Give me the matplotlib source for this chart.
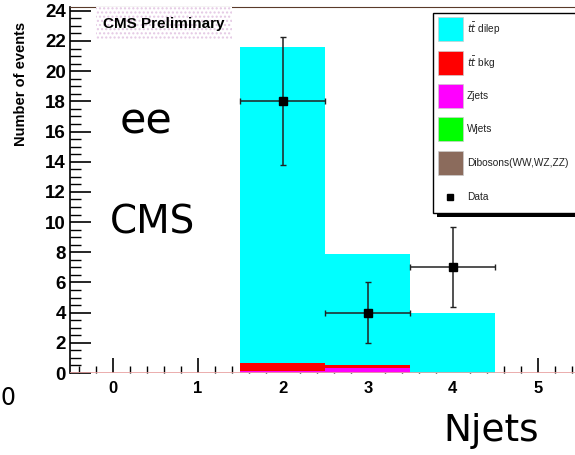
import matplotlib
matplotlib.use("Agg")
import matplotlib.pyplot as plt
from matplotlib.patches import Rectangle

# Data
bin_centers = [2, 3, 4]
zjets = [0.15, 0.30, 0.0]
tt_bkg = [0.50, 0.25, 0.0]
tt_dilep = [20.95, 7.35, 4.0]
wjets = [0.0, 0.0, 0.0]
dibosons = [0.0, 0.0, 0.0]
data_y = [18, 4, 7]
data_err = [4.25, 2.0, 2.65]

legend_labels = [r"$t\bar{t}$ dilep", r"$t\bar{t}$ bkg", "Zjets", "Wjets",
                 "Dibosons(WW,WZ,ZZ)", "Data"]
legend_colors = ["#00ffff", "#ff0000", "#ff00ff", "#00ff00", "#8b6b5c", None]

W, H = 575, 455
fig = plt.figure(figsize=(W / 100, H / 100), dpi=100)
fig.patch.set_facecolor("white")

def px(x, y):
    return x / W, 1 - y / H

ax = fig.add_axes([70 / W, 82 / H, 510.5 / W, 366 / H])
ax.set_xlim(-0.5, 5.5)
ax.set_ylim(0, 24.25)

# stacked histogram, bottom to top
stack = [(zjets, "#ff00ff"), (tt_bkg, "#ff0000"), (wjets, "#00ff00"),
         (dibosons, "#8b6b5c"), (tt_dilep, "#00ffff")]
base = [0.0] * len(bin_centers)
for vals, col in stack:
    ax.bar(bin_centers, vals, width=1.0, bottom=base, color=col,
           edgecolor="none", zorder=2)
    base = [b + v for b, v in zip(base, vals)]

ax.axhline(0, color="#e8a0a0", lw=1.2, zorder=3)

ax.errorbar(bin_centers, data_y, yerr=data_err, xerr=0.5, fmt="s",
            color="black", ecolor="#222222", markersize=6, elinewidth=1.1,
            capsize=2.5, capthick=1.0, zorder=5)

ax.set_xticks(range(0, 6))
ax.set_xticks([i * 0.2 - 0.4 for i in range(30)], minor=True)
ax.set_yticks(range(0, 25, 2))
ax.set_yticks([i * 0.5 for i in range(49)], minor=True)
ax.tick_params(axis="y", which="major", direction="in", length=15, width=1.2,
               pad=3, labelsize=13.5)
ax.tick_params(axis="y", which="minor", direction="in", length=8, width=1.0)
ax.tick_params(axis="x", which="major", direction="in", length=11, width=1.2,
               pad=6, labelsize=12)
ax.tick_params(axis="x", which="minor", direction="in", length=5, width=1.0)
for lab in ax.get_xticklabels() + ax.get_yticklabels():
    lab.set_fontweight("bold")
    lab.set_fontfamily("Liberation Sans")
ax.spines["right"].set_visible(False)
ax.spines["top"].set_color("#5a3a2a")
ax.spines["left"].set_linewidth(1.2)
ax.spines["bottom"].set_visible(False)

ax.set_ylabel("Number of events", fontsize=10.5, fontweight="bold",
              family="Liberation Sans")
ax.yaxis.set_label_coords(-42 / 510.5, 1 - 77 / 366)

# CMS Preliminary box
x0, y0 = px(96, 40)
fig.patches.append(Rectangle((x0, y0), 136 / W, 33 / H, transform=fig.transFigure,
                             facecolor="white", hatch="....", edgecolor="#e4c8e4",
                             lw=0, zorder=4))
fig.text(*px(164, 24), "CMS Preliminary", ha="center", va="center",
         fontsize=11, fontweight="bold", family="Liberation Sans", zorder=6)

# legend
sx, sy = px(437, 217)
fig.patches.append(Rectangle((sx, sy), 150 / W, 200 / H, transform=fig.transFigure,
                             facecolor="black", lw=0, zorder=6))
lx, ly = px(433, 213)
fig.patches.append(Rectangle((lx, ly), 150 / W, 200 / H, transform=fig.transFigure,
                             facecolor="white", edgecolor="black", lw=1.0, zorder=7))
rows = [29, 63, 96, 129, 163, 197]
for label, col, ry in zip(legend_labels, legend_colors, rows):
    if col is not None:
        rx, rb = px(438, ry + 12)
        fig.patches.append(Rectangle((rx, rb), 25 / W, 24 / H,
                                     transform=fig.transFigure, facecolor=col,
                                     edgecolor="#cccccc", lw=0.5, zorder=8))
    else:
        mx, my = px(450, ry)
        fig.lines.append(plt.Line2D([mx], [my], marker="s", color="black",
                                    markersize=5, transform=fig.transFigure,
                                    zorder=8))
    fig.text(*px(467, ry), label, ha="left", va="center", fontsize=7.3,
             family="Liberation Sans", color="#222222", zorder=9)

# big annotation texts
fig.text(*px(146, 122), "ee", ha="center", va="center", fontsize=31,
         family="DejaVu Sans")
fig.text(*px(152, 222), "CMS", ha="center", va="center", fontsize=28,
         family="DejaVu Sans")
fig.text(*px(491, 431), "Njets", ha="center", va="center", fontsize=27,
         family="DejaVu Sans")
fig.text(*px(1, 398), "0", ha="left", va="center", fontsize=17,
         family="DejaVu Sans")

fig.savefig("out.png", dpi=100)
